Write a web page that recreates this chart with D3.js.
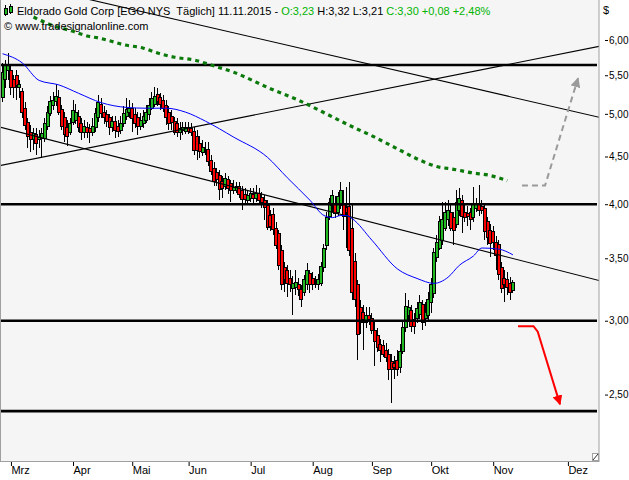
<!DOCTYPE html>
<html><head><meta charset="utf-8">
<script src="https://cdn.jsdelivr.net/npm/d3@7"></script>
<style>
html,body{margin:0;padding:0;background:#fff;}
svg{display:block;font-family:"Liberation Sans",Arial,sans-serif;}
</style></head><body>
<svg id="c" width="629" height="480"></svg>
<script>
// ---- data (daily OHLC, EGO NYS) ----
const open = [5.20,5.44,5.57,5.57,5.44,5.50,5.33,5.28,5.07,4.90,
4.78,4.69,4.75,4.69,4.70,4.71,4.85,5.01,5.10,5.15,
5.20,5.05,4.95,4.83,4.78,4.90,4.92,4.97,4.88,4.78,
4.83,4.82,4.78,4.83,4.95,5.12,5.02,4.99,4.95,4.84,
4.91,4.85,4.80,4.88,4.97,5.02,5.07,4.99,4.96,4.85,
4.88,4.92,4.99,5.07,5.12,5.24,5.20,5.17,5.10,5.02,
4.97,4.91,4.88,4.78,4.80,4.79,4.83,4.82,4.79,4.73,
4.65,4.55,4.57,4.58,4.46,4.37,4.33,4.29,4.23,4.18,
4.25,4.21,4.14,4.14,4.18,4.14,4.10,4.04,4.06,4.10,
4.06,4.11,4.07,4.04,3.99,3.89,3.90,3.77,3.72,3.57,
3.42,3.40,3.33,3.25,3.26,3.28,3.24,3.22,3.28,3.37,
3.33,3.28,3.28,3.29,3.42,3.61,3.88,3.99,4.01,3.92,
3.99,4.01,3.97,3.98,3.77,3.47,3.28,3.10,3.06,2.99,
3.04,3.02,2.93,2.89,2.83,2.82,2.79,2.76,2.71,2.70,
2.72,2.67,2.78,2.95,3.04,3.08,3.01,3.02,3.05,3.12,
3.02,3.04,3.14,3.21,3.51,3.59,3.66,3.77,3.85,3.92,
3.87,3.80,3.94,4.04,3.92,3.91,3.92,3.87,3.96,4.01,
3.98,3.96,3.83,3.75,3.74,3.64,3.62,3.42,3.33,3.32,
3.29,3.23];
const high = [5.67,5.71,5.81,5.64,5.50,5.57,5.44,5.33,5.15,4.95,
4.86,4.83,4.83,4.80,4.83,4.95,5.10,5.22,5.28,5.38,
5.30,5.11,5.02,4.92,4.95,5.17,5.12,5.05,4.95,4.92,
4.90,4.88,4.95,5.07,5.24,5.20,5.10,5.05,5.00,4.97,
4.97,4.92,4.97,5.10,5.20,5.17,5.14,5.07,5.02,5.01,
5.05,5.11,5.20,5.28,5.34,5.33,5.26,5.24,5.17,5.10,
5.05,4.96,4.95,4.90,4.90,4.90,4.90,4.89,4.84,4.80,
4.73,4.69,4.66,4.66,4.52,4.44,4.37,4.35,4.29,4.32,
4.29,4.25,4.25,4.23,4.23,4.18,4.16,4.14,4.16,4.16,
4.19,4.16,4.12,4.09,4.04,3.94,3.96,3.83,3.75,3.62,
3.47,3.44,3.40,3.35,3.40,3.33,3.28,3.36,3.46,3.40,
3.38,3.35,3.37,3.47,3.63,3.92,4.06,4.14,4.08,4.12,
4.23,4.14,4.17,4.23,3.99,3.55,3.32,3.16,3.12,3.10,
3.10,3.06,2.99,2.95,2.87,2.86,2.84,2.80,2.76,2.75,
2.79,2.83,2.99,3.21,3.16,3.12,3.06,3.14,3.20,3.16,
3.14,3.22,3.33,3.59,3.71,3.89,4.02,4.02,4.04,3.99,
3.92,4.14,4.16,4.09,3.99,3.98,3.96,4.17,4.06,4.19,
4.04,4.00,3.88,3.81,3.79,3.70,3.66,3.47,3.40,3.38,
3.34,3.32];
const low = [5.15,5.33,5.44,5.24,5.20,5.17,5.20,4.95,4.80,4.60,
4.55,4.57,4.52,4.60,4.48,4.66,4.80,4.97,5.05,5.10,
4.99,4.80,4.66,4.62,4.75,4.86,4.88,4.78,4.69,4.71,
4.71,4.65,4.73,4.78,4.90,4.95,4.88,4.84,4.75,4.78,
4.71,4.72,4.76,4.84,4.92,4.95,4.78,4.83,4.75,4.80,
4.83,4.89,4.92,5.05,5.09,5.10,5.05,5.02,4.86,4.80,
4.80,4.75,4.72,4.69,4.75,4.76,4.76,4.73,4.52,4.46,
4.48,4.51,4.52,4.40,4.30,4.18,4.18,4.04,4.06,4.14,
4.10,4.02,4.10,4.11,4.06,3.94,4.00,4.00,4.02,4.01,
4.02,4.00,3.96,3.85,3.75,3.74,3.71,3.58,3.40,3.24,
3.22,3.18,3.22,3.04,3.20,3.19,3.10,3.19,3.24,3.21,
3.24,3.25,3.24,3.27,3.38,3.57,3.85,3.92,3.87,3.89,
3.95,3.75,3.59,3.52,3.16,3.10,2.72,2.90,2.79,2.95,
2.97,2.90,2.68,2.78,2.71,2.74,2.71,2.59,2.45,2.60,
2.62,2.64,2.76,2.92,2.99,2.92,2.90,2.98,3.01,2.93,
2.96,2.99,3.06,3.17,3.47,3.57,3.62,3.74,3.79,3.74,
3.62,3.77,3.89,3.73,3.83,3.79,3.75,3.83,3.92,3.89,
3.90,3.66,3.62,3.51,3.57,3.40,3.32,3.21,3.14,3.20,
3.16,3.21];
const close = [5.54,5.63,5.65,5.33,5.33,5.36,5.37,5.02,4.86,4.73,
4.69,4.76,4.65,4.72,4.76,4.88,5.02,5.15,5.17,5.22,
5.02,4.85,4.75,4.73,4.88,5.04,5.02,4.84,4.78,4.85,
4.78,4.77,4.85,5.00,5.14,5.00,4.95,4.91,4.83,4.91,
4.80,4.79,4.88,5.01,5.06,5.07,4.94,4.88,4.85,4.92,
4.97,5.02,5.10,5.19,5.22,5.15,5.12,5.07,4.96,4.88,
4.90,4.78,4.78,4.82,4.83,4.83,4.79,4.78,4.57,4.57,
4.56,4.60,4.58,4.44,4.34,4.23,4.25,4.15,4.16,4.26,
4.16,4.14,4.17,4.18,4.10,4.05,4.05,4.09,4.11,4.06,
4.11,4.04,4.02,3.97,3.78,3.79,3.76,3.61,3.44,3.28,
3.32,3.29,3.28,3.29,3.30,3.24,3.16,3.32,3.40,3.28,
3.28,3.29,3.32,3.43,3.59,3.87,4.02,4.09,3.91,4.08,
4.14,3.88,3.92,3.57,3.22,3.16,2.90,2.99,3.01,3.04,
3.01,2.93,2.85,2.81,2.79,2.76,2.74,2.66,2.66,2.67,
2.66,2.78,2.95,3.11,3.10,2.96,2.96,3.09,3.14,2.99,
3.06,3.16,3.28,3.55,3.64,3.83,3.85,3.92,3.94,3.77,
3.75,4.02,4.06,3.88,3.87,3.88,3.85,4.01,4.01,3.94,
3.94,3.74,3.68,3.63,3.64,3.52,3.36,3.25,3.28,3.26,
3.22,3.30];

// x axis: month labels at bar positions
const monthLabels = ["Mrz","Apr","Mai","Jun","Jul","Aug","Sep","Okt","Nov","Dez"];
const monthIdx = [3,25,46,66,88,110,131,152,174,200.5];
// y axis ticks
const priceTicks = [2.5,3,3.5,4,4.5,5,5.5,6];

// moving averages (bar index, value)
const maIdx = [0,7,13,20,27,35,44,51,58,65,72,82,94,101,109,114,117,120,122,124,131,140,147,153,158,162,167,170,176,181];
const maVal = [5.80,5.67,5.43,5.37,5.26,5.14,5.08,5.07,5.07,5.02,4.91,4.72,4.49,4.27,4.04,3.89,3.87,3.89,3.89,3.86,3.66,3.41,3.33,3.29,3.34,3.44,3.52,3.59,3.58,3.53];
const ma200Idx = [11,17,25,30,34,37,43,50,55,61,68,74,82,95,105,116,123,132,141,148,154,160,167,172,179];
const ma200Val = [6.35,6.23,6.13,6.06,6.03,6.00,5.93,5.88,5.81,5.75,5.71,5.64,5.54,5.32,5.17,4.98,4.86,4.72,4.57,4.46,4.39,4.36,4.32,4.30,4.24];

// drawn levels and trend lines
const hLevels = [5.64,4.00,3.00,2.40];
const trend1 = [[31.8,6.62],[210.1,4.97]];
const trend2 = [[-1,4.40],[212,5.91]];
const trend3 = [[-1,4.84],[212,3.31]];
const upArrow = [[184.2,4.19],[192.4,4.19],[204.1,5.46]];
const downArrow = [[182.8,2.96],[188.3,2.96],[189.8,2.92],[197.7,2.44]];

// ---- drawing ----
const W = 629, H = 480;
const plot = {l:0, t:0, r:599, b:461};
const svg = d3.select("#c");

const x = d3.scaleLinear().domain([0,181]).range([2.5, 2.5+181*2.82]);
const y = d3.scaleLog().domain([2.1218, 6.6228]).range([plot.b, plot.t]);

svg.append("rect").attr("x",0).attr("y",0).attr("width",W).attr("height",H).attr("fill","#fff");
svg.append("rect").attr("x",plot.l).attr("y",plot.t).attr("width",plot.r-plot.l).attr("height",plot.b-plot.t).attr("fill","#f5f5f5");

const defs = svg.append("defs");
defs.append("clipPath").attr("id","clip").append("rect")
  .attr("x",plot.l+1).attr("y",plot.t).attr("width",plot.r-plot.l-1).attr("height",plot.b-plot.t);
defs.append("marker").attr("id","gh").attr("viewBox","0 0 10 10").attr("refX",9).attr("refY",5)
  .attr("markerWidth",5).attr("markerHeight",5).attr("orient","auto").attr("markerUnits","strokeWidth")
  .append("path").attr("d","M0,0L10,5L0,10z").attr("fill","#9a9a9a");
defs.append("marker").attr("id","rh").attr("viewBox","0 0 10 10").attr("refX",9).attr("refY",5)
  .attr("markerWidth",5).attr("markerHeight",5).attr("orient","auto").attr("markerUnits","strokeWidth")
  .append("path").attr("d","M0,0L10,5L0,10z").attr("fill","#ff0000");

const g = svg.append("g").attr("clip-path","url(#clip)");

// candles
const bars = open.map((o,i)=>({i, o, h:high[i], l:low[i], c:close[i]}));
const cg = g.append("g").attr("shape-rendering","crispEdges");
bars.forEach(d=>{
  const cx = x(d.i);
  const grp = cg.append("g");
  grp.append("line").attr("x1",cx).attr("x2",cx).attr("y1",y(d.h)).attr("y2",y(d.l))
    .attr("stroke","#000").attr("stroke-width",1);
  const top = y(Math.max(d.o,d.c)), bot = y(Math.min(d.o,d.c));
  grp.append("rect").attr("x",cx-1.5).attr("y",top).attr("width",3).attr("height",Math.max(1,bot-top))
    .attr("fill", d.c>=d.o ? "#22b822" : "#ff0000").attr("stroke","#000").attr("stroke-width",1);
});

// trend lines, extended across plot
function extLine(pts){
  const x1=x(pts[0][0]), y1=y(pts[0][1]), x2=x(pts[1][0]), y2=y(pts[1][1]);
  const s=(y2-y1)/(x2-x1);
  const xa=-10, xb=plot.r+10;
  return [[xa, y1+s*(xa-x1)],[xb, y1+s*(xb-x1)]];
}
[trend1,trend2,trend3].forEach(t=>{
  const p = extLine(t);
  g.append("line").attr("x1",p[0][0]).attr("y1",p[0][1]).attr("x2",p[1][0]).attr("y2",p[1][1])
    .attr("stroke","#000").attr("stroke-width",1.1);
});

// horizontal levels
hLevels.forEach(v=>{
  g.append("line").attr("x1",plot.l).attr("x2",plot.r-2).attr("y1",y(v)).attr("y2",y(v))
    .attr("stroke","#000").attr("stroke-width",2.6);
});

// blue MA
const lineGen = d3.line().x(d=>x(d[0])).y(d=>y(d[1])).curve(d3.curveMonotoneX);
g.append("path").datum(maIdx.map((v,i)=>[v,maVal[i]])).attr("d",lineGen)
  .attr("fill","none").attr("stroke","#0000ff").attr("stroke-width",1);

// green dotted MA
g.append("path").datum(ma200Idx.map((v,i)=>[v,ma200Val[i]])).attr("d",lineGen)
  .attr("fill","none").attr("stroke","#0b7a0b").attr("stroke-width",3.2).attr("stroke-dasharray","4,4");

// arrows
const straight = d3.line().x(d=>x(d[0])).y(d=>y(d[1]));
g.append("path").datum(upArrow).attr("d",straight).attr("fill","none")
  .attr("stroke","#9a9a9a").attr("stroke-width",2).attr("stroke-dasharray","6,4").attr("marker-end","url(#gh)");
g.append("path").datum(downArrow).attr("d",straight).attr("fill","none")
  .attr("stroke","#ff0000").attr("stroke-width",2).attr("marker-end","url(#rh)");

// plot border
svg.append("rect").attr("x",plot.l+0.5).attr("y",plot.t-1).attr("width",plot.r-plot.l-0.5).attr("height",plot.b-plot.t+1.5)
  .attr("fill","none").attr("stroke","#a0a0a0").attr("stroke-width",1);
// resize glyph
svg.append("rect").attr("x",592.5).attr("y",453.5).attr("width",6).attr("height",7).attr("fill","#fff").attr("stroke","#a0a0a0");
svg.append("line").attr("x1",593).attr("y1",460).attr("x2",598).attr("y2",454).attr("stroke","#333");

// y axis
const yAxis = d3.axisRight(y).tickValues(priceTicks).tickSize(3).tickPadding(1)
  .tickFormat(d=>d3.format(".2f")(d).replace(".",","));
const ya = svg.append("g").attr("transform",`translate(${605},0)`).call(yAxis);
ya.select(".domain").remove();
ya.selectAll("text").attr("font-size",10).attr("font-family","'Liberation Sans',Arial,sans-serif").attr("fill","#000");
ya.selectAll("line").attr("stroke","#000");
svg.append("text").attr("x",603).attr("y",14).attr("font-size",11).attr("fill","#000").text("$");

// x axis
const xAxis = d3.axisBottom(x).tickValues(monthIdx).tickSize(4).tickFormat((d,i)=>monthLabels[i]);
const xa = svg.append("g").attr("transform",`translate(0,${plot.b+1})`).call(xAxis);
xa.select(".domain").remove();
xa.selectAll("line").attr("stroke","#000");
xa.selectAll("text").attr("font-size",11).attr("font-family","'Liberation Sans',Arial,sans-serif")
  .attr("fill","#000").attr("text-anchor","start").attr("x",0).attr("y",4).attr("dy","0.71em");

// legend icon
const ic = svg.append("g").attr("shape-rendering","crispEdges");
[[5.5,5,16,8,14],[10.5,4,14,6,12]].forEach(c=>{
  ic.append("line").attr("x1",c[0]).attr("x2",c[0]).attr("y1",c[1]).attr("y2",c[2]).attr("stroke","#000");
  ic.append("rect").attr("x",c[0]-1.5).attr("y",c[3]).attr("width",3).attr("height",c[4]-c[3]).attr("fill","#22b822").attr("stroke","#000");
});

// title
const t = svg.append("text").attr("x",17).attr("y",15).attr("font-size",11).style("white-space","pre");
t.append("tspan").attr("fill","#000").text("Eldorado Gold Corp [EGO NYS  Täglich] 11.11.2015 - ");
t.append("tspan").attr("fill","#00b400").text("O:3,23");
t.append("tspan").attr("fill","#000").text(" H:3,32 L:3,21 ");
t.append("tspan").attr("fill","#00b400").text("C:3,30 +0,08 +2,48%");
svg.append("text").attr("x",4).attr("y",30).attr("font-size",11).attr("fill","#000").text("© www.tradesignalonline.com");
</script>
</body></html>
